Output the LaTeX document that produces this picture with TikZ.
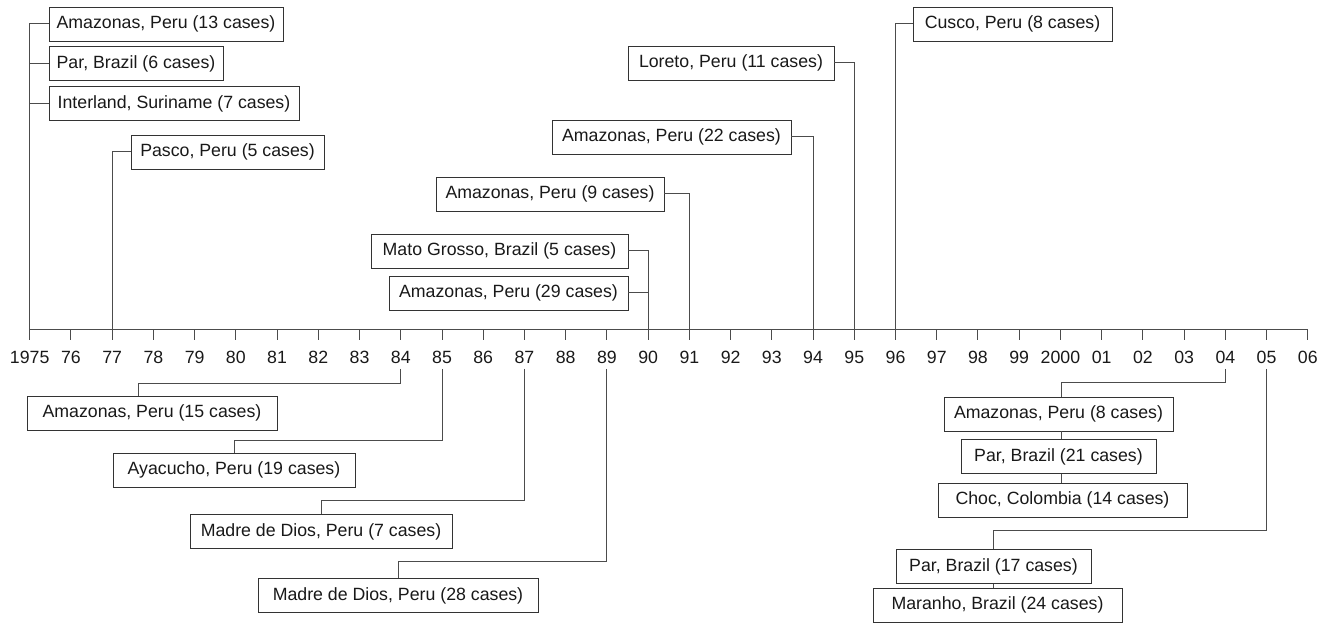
\documentclass[tikz,border=0pt]{standalone}
\usepackage{fontspec}
\setmainfont{Liberation Sans}
\usepackage{tikz}

\begin{document}
\begin{tikzpicture}[x=0.75pt,y=0.75pt,yscale=-1,xscale=1,
  case/.style={draw=black!80,line width=0.65pt,fill=white,text=black!90,inner sep=0pt,minimum height=25.5pt,font=\fontsize{13.3}{15}\selectfont},
  link/.style={draw=black!70,line width=0.75pt},
  yearlab/.style={text=black!90,inner sep=0pt,font=\fontsize{13.3}{15}\selectfont}]
\useasboundingbox (0,0) rectangle (1340,623);

% Time axis
\draw [link] (29.7,330) -- (1308,330);
\foreach \i/\lab in {0/1975,1/76,2/77,3/78,4/79,5/80,6/81,7/82,8/83,9/84,10/85,11/86,12/87,13/88,14/89,15/90,16/91,17/92,18/93,19/94,20/95,21/96,22/97,23/98,24/99,25/2000,26/01,27/02,28/03,29/04,30/05,31/06} {
  \coordinate (y\i) at ({29.7+41.23*\i},330);
  \coordinate (d\i) at ({29.7+41.23*\i},369);
  \draw [link] (y\i) -- ++(0,10);
  \node [yearlab] (l\i) at ({29.7+41.23*\i},357.5) {\lab};
}

% Boxes above the axis
\node [case,minimum width=175.5pt] (am13) at (166,24) {Amazonas, Peru (13 cases)};
\node [case,minimum width=130.5pt] (par6) at (136,63.5) {Par, Brazil (6 cases)};
\node [case,minimum width=187.5pt] (interland) at (174,103.5) {Interland, Suriname (7 cases)};
\node [case,minimum width=144.75pt] (pasco) at (227.5,152) {Pasco, Peru (5 cases)};
\node [case,minimum width=154.5pt] (loreto) at (731,63) {Loreto, Peru (11 cases)};
\node [case,minimum width=179.25pt] (am22) at (671.5,137) {Amazonas, Peru (22 cases)};
\node [case,minimum width=171pt] (am9) at (550,194) {Amazonas, Peru (9 cases)};
\node [case,minimum width=192.75pt] (mato) at (499.5,251) {Mato Grosso, Brazil (5 cases)};
\node [case,minimum width=179.25pt] (am29) at (508.5,293) {Amazonas, Peru (29 cases)};
\node [case,minimum width=149.25pt] (cusco) at (1012.5,24) {Cusco, Peru (8 cases)};

% Boxes below the axis
\node [case,minimum width=187.5pt] (am15) at (152,413) {Amazonas, Peru (15 cases)};
\node [case,minimum width=181.5pt] (ayacucho) at (234,470) {Ayacucho, Peru (19 cases)};
\node [case,minimum width=196.5pt] (madre7) at (321,531.5) {Madre de Dios, Peru (7 cases)};
\node [case,minimum width=210pt] (madre28) at (398,595.5) {Madre de Dios, Peru (28 cases)};
\node [case,minimum width=171.75pt] (am8) at (1058.5,414) {Amazonas, Peru (8 cases)};
\node [case,minimum width=146.25pt] (par21) at (1058.5,456.5) {Par, Brazil (21 cases)};
\node [case,minimum width=186.75pt] (choc) at (1062.5,500) {Choc, Colombia (14 cases)};
\node [case,minimum width=146.25pt] (par17) at (993.5,566.5) {Par, Brazil (17 cases)};
\node [case,minimum width=186.75pt] (maranho) at (997.5,605) {Maranho, Brazil (24 cases)};

% Connectors above
\draw [link] (y0) |- (am13.west);
\draw [link] (y0 |- par6.west) -- (par6.west);
\draw [link] (y0 |- interland.west) -- (interland.west);
\draw [link] (y2) |- (pasco.west);
\draw [link] (y20) |- (loreto.east);
\draw [link] (y19) |- (am22.east);
\draw [link] (y16) |- (am9.east);
\draw [link] (y15) |- (mato.east);
\draw [link] (y15 |- am29.east) -- (am29.east);
\draw [link] (y21) |- (cusco.west);

% Connectors below
\draw [link] (d9) -- ++(0,15) -| ([xshift=-10.5pt]am15.north);
\draw [link] (d10) -- ++(0,72) -| (ayacucho.north);
\draw [link] (d12) -- ++(0,132) -| (madre7.north);
\draw [link] (d14) -- ++(0,193) -| (madre28.north);
\draw [link] (d29) -- ++(0,14) -| ([xshift=2.6pt]am8.north);
\draw [link] ([xshift=2.6pt]am8.south) -- ([xshift=2.6pt]am8.south |- par21.north);
\draw [link] ([xshift=2.6pt]par21.south) -- ([xshift=2.6pt]par21.south |- choc.north);
\draw [link] (d30) -- ++(0,162) -| (par17.north);
\draw [link] (par17.south) -- (par17.south |- maranho.north);

\end{tikzpicture}
\end{document}
